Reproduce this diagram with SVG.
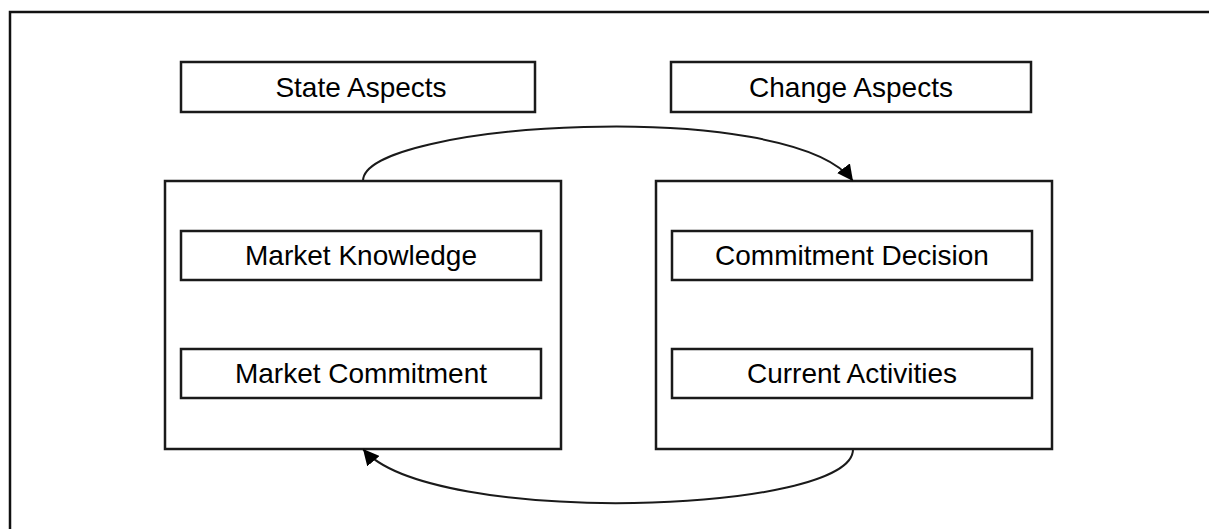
<svg xmlns="http://www.w3.org/2000/svg" width="1209" height="529" viewBox="0 0 1209 529">
<style>
.box{fill:#fff;stroke:#1a1a1a;stroke-width:2.5}
.lbl{font-family:"Liberation Sans",Arial,sans-serif;font-size:28px;fill:#000;text-anchor:middle}
.arc{fill:none;stroke:#1a1a1a;stroke-width:2}
</style>
<defs>
<marker id="ah" viewBox="0 0 10 10" refX="10" refY="5" markerWidth="8" markerHeight="8" orient="auto" markerUnits="strokeWidth">
<path d="M0,0 L10,5 L0,10 z" fill="#000"/>
</marker>
</defs>
<rect x="10" y="12" width="1210" height="530" fill="#fff" stroke="#111" stroke-width="2.5"/>
<g id="state-aspects"><rect class="box" x="181" y="62" width="354" height="50"/><text class="lbl" x="361" y="97">State Aspects</text></g>
<g id="change-aspects"><rect class="box" x="671" y="62" width="360" height="50"/><text class="lbl" x="851" y="97">Change Aspects</text></g>
<g id="state-box"><rect class="box" x="165" y="181" width="396" height="268"/></g>
<g id="change-box"><rect class="box" x="656" y="181" width="396" height="268"/></g>
<g id="market-knowledge"><rect class="box" x="181" y="231" width="360" height="49"/><text class="lbl" x="361" y="265">Market Knowledge</text></g>
<g id="market-commitment"><rect class="box" x="181" y="349" width="360" height="49"/><text class="lbl" x="361" y="383">Market Commitment</text></g>
<g id="commitment-decision"><rect class="box" x="672" y="231" width="360" height="49"/><text class="lbl" x="852" y="265">Commitment Decision</text></g>
<g id="current-activities"><rect class="box" x="672" y="349" width="360" height="49"/><text class="lbl" x="852" y="383">Current Activities</text></g>
<g id="connectors">
<path class="arc" d="M363,181 C362,122 790,96 853,181" marker-end="url(#ah)"/>
<path class="arc" d="M853,449 C855,514 430,528 363,449" marker-end="url(#ah)"/>
</g>
</svg>
